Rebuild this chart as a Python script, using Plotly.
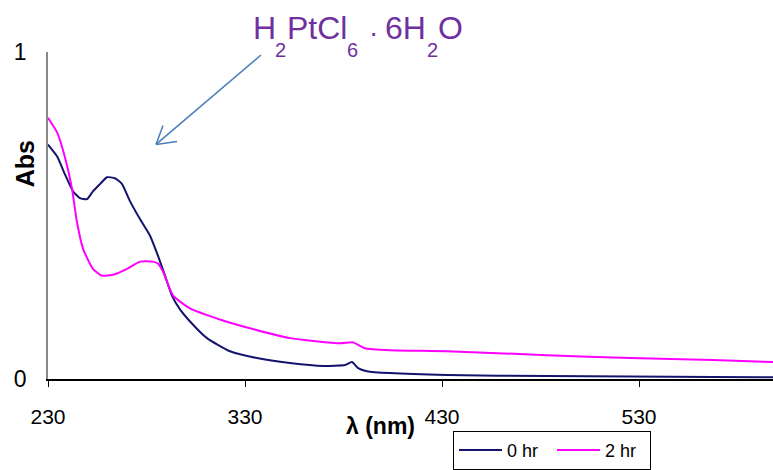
import plotly.graph_objects as go

# 0 hr spectrum
wl_0hr = [230, 234.6, 238.6, 242.7, 246.2, 249.8, 252.8, 256.4, 259.9, 264.0, 267.6, 271.6,
          276.7, 281.8, 285.8, 289.4, 292.9, 297.0, 302.1, 310.7, 322.4, 336.1, 352.8, 369.6,
          380.8, 384.3, 387.4, 391.9, 403.6, 432.5, 483.3, 567.6, 598]
abs_0hr = [0.717, 0.681, 0.626, 0.574, 0.553, 0.550, 0.574, 0.596, 0.617, 0.614, 0.596, 0.544,
           0.489, 0.438, 0.377, 0.316, 0.255, 0.213, 0.176, 0.125, 0.085, 0.064, 0.049, 0.040,
           0.043, 0.052, 0.033, 0.024, 0.018, 0.012, 0.009, 0.006, 0.005]

# 2 hr spectrum
wl_2hr = [230, 234.6, 238.6, 242.2, 244.7, 247.8, 252.8, 257.4, 263.0, 270.1, 276.7, 283.2,
          285.8, 288.4, 293.5, 302.1, 318.8, 332.5, 352.8, 378.2, 384.8, 390.9, 403.6, 432.5,
          483.3, 525.4, 567.6, 598]
abs_2hr = [0.799, 0.754, 0.678, 0.581, 0.480, 0.398, 0.337, 0.316, 0.319, 0.337, 0.359, 0.359,
           0.353, 0.328, 0.255, 0.216, 0.179, 0.155, 0.125, 0.109, 0.112, 0.094, 0.088, 0.085,
           0.073, 0.064, 0.058, 0.052]

x_ticks = [230, 330, 430, 530]
y_ticks = [0, 1]
series_names = ["0 hr", "2 hr"]

# compound label pieces: (text, left pixel, centre pixel y, font size)
label_parts = [("H", 251, 28, 32), ("2", 273, 50, 20), ("PtCl", 285, 28, 32), ("6", 345, 50, 20),
               ("·", 367, 32, 28), ("6H", 383, 28, 32), ("2", 425, 50, 20), ("O", 436, 28, 32)]

L, T, W, H = 48, 52, 725, 329


def px(xp, yp):
    return (xp - L) / W, (T + H - yp) / H


fig = go.Figure()
fig.add_trace(go.Scatter(x=wl_0hr, y=abs_0hr, mode="lines", name=series_names[0],
                         line=dict(color="#14146e", width=2, shape="spline", smoothing=0.5)))
fig.add_trace(go.Scatter(x=wl_2hr, y=abs_2hr, mode="lines", name=series_names[1],
                         line=dict(color="#ff00ff", width=2, shape="spline", smoothing=0.5)))

fig.update_layout(
    width=773, height=470,
    margin=dict(l=L, r=773 - L - W, t=T, b=470 - T - H),
    paper_bgcolor="white", plot_bgcolor="white",
    font=dict(family="Liberation Sans, Arial, sans-serif", color="#000"),
    showlegend=True,
    legend=dict(orientation="h", x=px(453, 0)[0], xanchor="left",
                y=px(0, 433)[1], yanchor="top",
                bordercolor="#000", borderwidth=1, bgcolor="white",
                font=dict(size=18, color="#000"), itemwidth=43,
                entrywidth=40, entrywidthmode="pixels"),
    xaxis=dict(range=[230, 598], tickvals=x_ticks, ticktext=[str(v) for v in x_ticks],
               showgrid=False, zeroline=False, showline=True, linecolor="#000", linewidth=1.5,
               ticks="outside", ticklen=6, tickcolor="#000", tickfont=dict(size=21),
               ticklabelstandoff=12),
    yaxis=dict(range=[0, 1], tickvals=y_ticks, ticktext=["0", "1"],
               showgrid=False, zeroline=False, showline=True, linecolor="#888", linewidth=1.5,
               ticks="", tickfont=dict(size=23), ticklabelstandoff=15),
)

# axis titles
fig.add_annotation(xref="paper", yref="paper", x=px(380, 0)[0], y=px(0, 428)[1],
                   xanchor="center", yanchor="middle",
                   text="<b>λ (nm)</b>", showarrow=False, font=dict(size=23))
fig.add_annotation(xref="paper", yref="paper", x=px(25, 0)[0], y=px(0, 165)[1],
                   xanchor="center", yanchor="middle",
                   text="<b>Abs</b>", textangle=-90, showarrow=False, font=dict(size=25))

# compound label
for txt, xl, yc, fs in label_parts:
    fig.add_annotation(xref="paper", yref="paper", x=px(xl, 0)[0], y=px(0, yc)[1],
                       xanchor="left", yanchor="middle", text=txt, showarrow=False,
                       font=dict(size=fs, color="#7030a0"))

# arrow
arrow_col = "#4a7ebb"
for (x0, y0, x1, y1) in [(261, 55, 156, 145), (156, 145, 163, 126), (156, 145, 177, 142)]:
    a0 = px(x0, y0)
    a1 = px(x1, y1)
    fig.add_shape(type="line", xref="paper", yref="paper", x0=a0[0], y0=a0[1], x1=a1[0], y1=a1[1],
                  line=dict(color=arrow_col, width=1.5))

fig.write_html("out.html")
